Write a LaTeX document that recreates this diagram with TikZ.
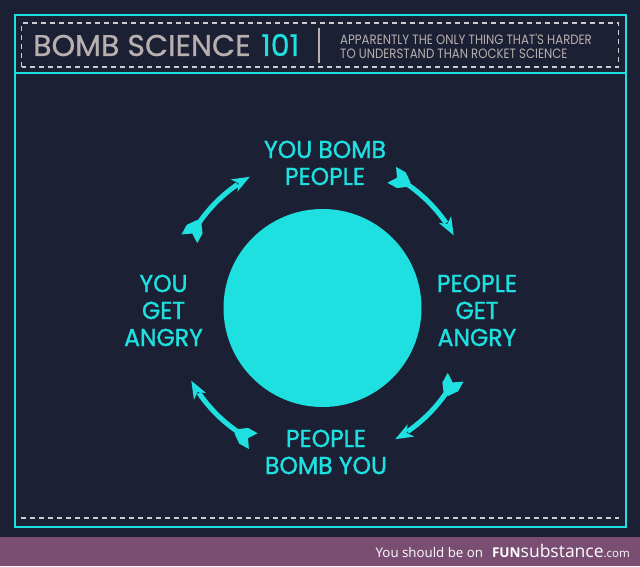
\documentclass[tikz,border=0pt]{standalone}
\usepackage{fontspec}
\newfontfamily\fut[FakeStretch=0.96, FakeBold=1.2]{Poppins}
\newfontfamily\futt[FakeBold=0.6]{Poppins}
\newfontfamily\futs[FakeStretch=0.87]{Poppins}
\newfontfamily\foot{Open Sans}
\usetikzlibrary{calc}
\definecolor{bg}{HTML}{1C2034}
\definecolor{cy}{HTML}{1FE0E0}
\definecolor{tgray}{HTML}{B8B0AE}
\definecolor{dgray}{HTML}{CFCBD0}
\definecolor{purp}{HTML}{7A4E72}
\begin{document}
\begin{tikzpicture}[x=1pt,y=1pt,
  frame/.style={draw=cy, line width=2},
  dashline/.style={draw=dgray, line width=1.4, dash pattern=on 5pt off 4pt},
  lbl/.style={text=cy, font=\fut\fontsize{24.5}{27}\selectfont, align=center, inner sep=0, anchor=base},
  shaft/.style={draw=cy, line width=5},
  tip/.style={fill=cy},
]
\fill[bg] (0,0) rectangle (640,566);
\useasboundingbox (0,0) rectangle (640,566);
\fill[purp] (0,0) rectangle (640,29);
% frames
\draw[frame] (14.5,39) rectangle (625.5,551);
\draw[frame] (14.5,492.5) -- (625.5,492.5);
\draw[dashline] (21.5,499) rectangle (618.5,543);
\draw[dashline] (21,48) -- (619,48);
% header
\node[anchor=base west, inner sep=0, text=tgray, font=\futt\fontsize{30}{30}\selectfont] (title) at (33,510) {BOMB SCIENCE};
\node[anchor=base west, inner sep=0, text=cy, font=\futt\fontsize{30}{30}\selectfont] (num) at (261,510) {101};
\draw[tgray, line width=1.5] (319,538) -- (319,503);
\node[anchor=base west, inner sep=0, text=tgray, font=\futs\fontsize{13.5}{13.5}\selectfont] (sub1) at (340,521) {APPARENTLY THE ONLY THING THAT'S HARDER};
\node[anchor=base west, inner sep=0, text=tgray, font=\futs\fontsize{13.5}{13.5}\selectfont] (sub2) at (340,507.5) {TO UNDERSTAND THAN ROCKET SCIENCE};
% circle
\node[circle, fill=cy, minimum size=198pt, inner sep=0] (core) at (322.5,258) {};
% labels (base = last line)
\node[lbl] (ybp) at (325,381) {YOU BOMB\\PEOPLE};
\node[lbl] (pga) at (477,220) {PEOPLE\\GET\\ANGRY};
\node[lbl] (pby) at (326,92) {PEOPLE\\BOMB YOU};
\node[lbl] (yga) at (163.5,220) {YOU\\GET\\ANGRY};
% arrows
\foreach \s/\e in {151/119, 61/29, -29/-61, -119/-151}{
  \pgfmathsetmacro{\sa}{\s-5}
  \pgfmathsetmacro{\ea}{\e+5.5}
  \pgfmathsetmacro{\rs}{\s-90}
  \pgfmathsetmacro{\re}{\e-90}
  \draw[shaft] ($(core.center)+(\sa:150)$) arc[start angle=\sa, end angle=\ea, radius=150];
  \begin{scope}[shift={($(core.center)+(\e:150)$)}, rotate=\re]
    \fill[tip] (0,0) -- (-18,7) -- (-13,0) -- (-18,-7) -- cycle;
  \end{scope}
  \begin{scope}[shift={($(core.center)+(\s:150)$)}, rotate=\rs]
    \fill[tip] (16,2.5) -- (7,9) -- (-4,9) -- (2,0) -- (-4,-9) -- (7,-9) -- (16,-2.5) -- cycle;
  \end{scope}
}
% footer
\node[anchor=base east, inner sep=0, text=white] (foot) at (630,9)
  {{\foot\fontsize{13.3}{13.3}\selectfont You should be on}\hspace{9pt}{\foot\bfseries\fontsize{13.5}{13.5}\selectfont FUN}{\foot\fontsize{17.5}{17.5}\selectfont substance}{\foot\fontsize{11.5}{11.5}\selectfont .com}};
\end{tikzpicture}
\end{document}
